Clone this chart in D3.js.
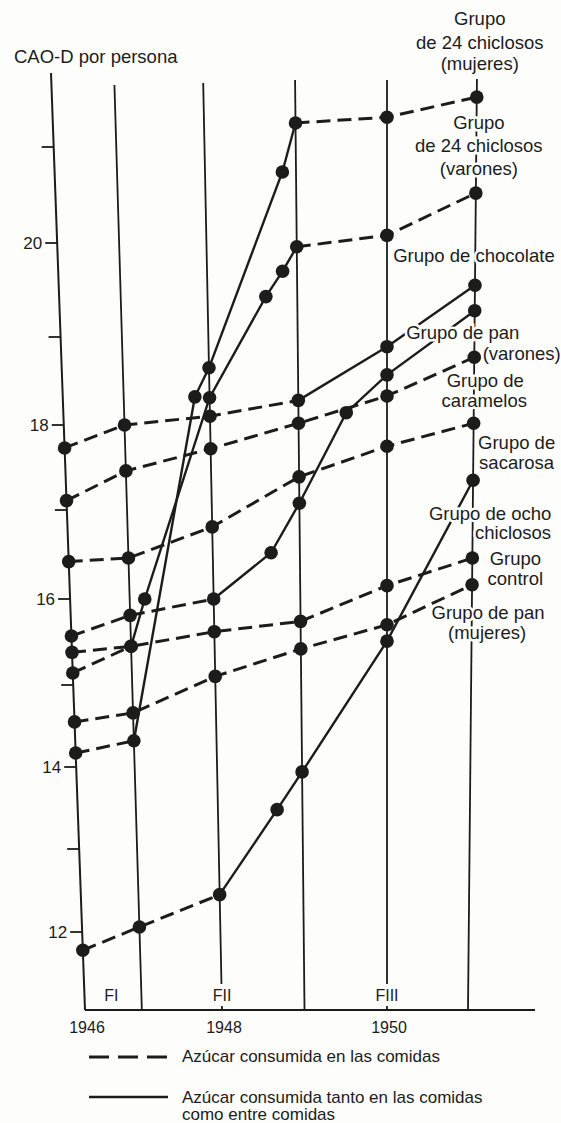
<!DOCTYPE html>
<html><head><meta charset="utf-8">
<script src="https://cdn.jsdelivr.net/npm/d3@7"></script>
<style>
html,body{margin:0;padding:0;background:#fdfdfb;}
svg text{font-family:"Liberation Sans", Arial, Helvetica, sans-serif; fill:#1c1c1c;}
</style></head><body>
<svg id="chart" width="561" height="1123"></svg>
<script>
// ---------------- DATA ----------------
const periodYears = [1946, 1946.83, 1948, 1949, 1950, 1951];
const periodLabels = ["FI", "FII", "FIII"];
const periodLabelYears = [1946.42, 1948, 1950];
const yearTicks = [1946, 1948, 1950];
const valueTicks = [12, 13, 14, 15, 16, 17, 18, 19, 20, 21];
const valueTickLabels = [12, 14, 16, 18, 20];
const yAxisTitle = "CAO-D por persona";

// betweenMeals: one flag per segment (true = solid line, sugar also between meals)
const mujeres24Years  = [1946, 1946.83, 1947.80, 1948, 1948.85, 1949, 1950, 1951];
const mujeres24Values = [14.17, 14.32, 18.32, 18.65, 20.74, 21.25, 21.31, 21.52];
const mujeres24Between = [false, true, true, true, true, false, false];

const varones24Years  = [1946, 1946.83, 1947.04, 1948, 1948.65, 1948.84, 1949, 1950, 1951];
const varones24Values = [15.14, 15.45, 16.0, 18.31, 19.43, 19.70, 19.96, 20.08, 20.52];
const varones24Between = [false, true, true, true, true, true, false, false];

const chocolateYears  = [1946, 1946.83, 1948, 1949, 1950, 1951];
const chocolateValues = [17.73, 18.0, 18.1, 18.28, 18.89, 19.55];
const chocolateBetween = [false, false, false, true, true];

const panVaronesYears  = [1946, 1946.83, 1948, 1948.67, 1949, 1949.54, 1950, 1951];
const panVaronesValues = [15.57, 15.81, 16.0, 16.52, 17.08, 18.14, 18.57, 19.28];
const panVaronesBetween = [false, false, true, true, true, true, true];

const caramelosYears  = [1946, 1946.83, 1948, 1949, 1950, 1951];
const caramelosValues = [17.11, 17.46, 17.72, 18.02, 18.33, 18.77];
const caramelosBetween = [false, false, false, false, false];

const sacarosaYears  = [1946, 1946.83, 1948, 1949, 1950, 1951];
const sacarosaValues = [16.42, 16.46, 16.81, 17.39, 17.75, 18.02];
const sacarosaBetween = [false, false, false, false, false];

const ochoYears  = [1946, 1946.83, 1948, 1948.70, 1949, 1950, 1951];
const ochoValues = [11.78, 12.06, 12.45, 13.48, 13.94, 15.51, 17.35];
const ochoBetween = [false, false, true, true, true, true];

const controlYears  = [1946, 1946.83, 1948, 1949, 1950, 1951];
const controlValues = [15.38, 15.45, 15.62, 15.74, 16.15, 16.46];
const controlBetween = [false, false, false, false, false];

const panMujeresYears  = [1946, 1946.83, 1948, 1949, 1950, 1951];
const panMujeresValues = [14.55, 14.66, 15.10, 15.42, 15.70, 16.16];
const panMujeresBetween = [false, false, false, false, false];

const groupNames = [
  ["Grupo", "de 24 chiclosos", "(mujeres)"],
  ["Grupo", "de 24 chiclosos", "(varones)"],
  ["Grupo de chocolate"],
  ["Grupo de pan", "(varones)"],
  ["Grupo de", "caramelos"],
  ["Grupo de", "sacarosa"],
  ["Grupo de ocho", "chiclosos"],
  ["Grupo", "control"],
  ["Grupo de pan", "(mujeres)"]
];
const legendLabels = [
  ["Azúcar consumida en las comidas"],
  ["Azúcar consumida tanto en las comidas", "como entre comidas"]
];

const series = [
  [mujeres24Years, mujeres24Values, mujeres24Between],
  [varones24Years, varones24Values, varones24Between],
  [chocolateYears, chocolateValues, chocolateBetween],
  [panVaronesYears, panVaronesValues, panVaronesBetween],
  [caramelosYears, caramelosValues, caramelosBetween],
  [sacarosaYears, sacarosaValues, sacarosaBetween],
  [ochoYears, ochoValues, ochoBetween],
  [controlYears, controlValues, controlBetween],
  [panMujeresYears, panMujeresValues, panMujeresBetween]
].map(([ys, vs, bs], i) => ({
  name: groupNames[i],
  points: ys.map((t, j) => ({t, v: vs[j]})),
  between: bs
}));

// ---------------- LAYOUT ----------------
// label offsets [dx, dy] of each text line relative to the series end point
const labelLayout = [
  [[3,-79],[3,-55],[3,-34]],
  [[3,-71],[3,-48],[3,-25]],
  [[-1,-30]],
  [[-12,22],[47,43]],
  [[11,23],[10,43]],
  [[43,19],[43,39]],
  [[17,33],[40,52]],
  [[43,0],[43,20]],
  [[16,28],[15,48]]
];

const INK = "#1c1c1c";
const svg = d3.select("#chart");
const Y0 = 73, Y1 = 1010;

const yScale = d3.scaleLinear().domain(valueTicks)
  .range([932, 849, 767, 685, 599, 510, 425, 337, 243, 147]);
// the scanned figure is slightly skewed: top and bottom x positions differ
const xTop = d3.scaleLinear().domain([1946, 1948, 1950, 1951]).range([51, 203, 387, 477]);
const xBot = d3.scaleLinear().domain([1946, 1948, 1950, 1951]).range([85, 222, 387, 468]);
function xAt(t, y) {
  const f = (y - Y0) / (Y1 - Y0);
  return xTop(t) + (xBot(t) - xTop(t)) * f;
}
function pos(p) { const y = yScale(p.v); return [xAt(p.t, y), y]; }

// vertical period lines
const lineTops = [73, 85, 83, 80, 80, 79];
svg.append("g").selectAll("line").data(periodYears).join("line")
  .attr("x1", (d, i) => xAt(d, lineTops[i])).attr("y1", (d, i) => lineTops[i])
  .attr("x2", d => xBot(d)).attr("y2", Y1)
  .attr("stroke", INK).attr("stroke-width", (d, i) => i === 0 ? 2 : 1.8);

// horizontal baseline
svg.append("line").attr("x1", xBot(1946)).attr("x2", 535).attr("y1", Y1).attr("y2", Y1)
  .attr("stroke", INK).attr("stroke-width", 2);

// y ticks
const tickG = svg.append("g");
valueTicks.forEach(v => {
  const y = yScale(v), x = xAt(1946, y);
  tickG.append("line").attr("x1", x - 12).attr("x2", x).attr("y1", y).attr("y2", y)
    .attr("stroke", INK).attr("stroke-width", 1.8);
  if (valueTickLabels.includes(v)) {
    tickG.append("text").attr("x", x - 15).attr("y", y).attr("text-anchor", "end")
      .attr("dominant-baseline", "central").attr("font-size", 17).text(v);
  }
});

svg.append("text").attr("x", 14).attr("y", 56).attr("dominant-baseline", "central")
  .attr("font-size", 18.5).text(yAxisTitle);

// year labels
yearTicks.forEach(t => {
  svg.append("text").attr("x", xBot(t) + 2).attr("y", 1027).attr("text-anchor", "middle")
    .attr("dominant-baseline", "central").attr("font-size", 16).text(t);
});

// data lines
const lineGen = d3.line().x(d => pos(d)[0]).y(d => pos(d)[1]);
const dataG = svg.append("g");
series.forEach(s => {
  let runs = [];
  s.between.forEach((b, i) => {
    const last = runs[runs.length - 1];
    if (last && last.b === b) last.pts.push(s.points[i + 1]);
    else runs.push({b, pts: [s.points[i], s.points[i + 1]]});
  });
  runs.forEach(r => {
    dataG.append("path").attr("d", lineGen(r.pts)).attr("fill", "none")
      .attr("stroke", INK).attr("stroke-width", r.b ? 2.4 : 3)
      .attr("stroke-dasharray", r.b ? null : "14,7");
  });
});
series.forEach(s => {
  dataG.append("g").selectAll("circle").data(s.points).join("circle")
    .attr("cx", d => pos(d)[0]).attr("cy", d => pos(d)[1]).attr("r", 6.8).attr("fill", INK);
});

// period labels (white halo interrupts the lines)
const bg = "#fdfdfb";
periodLabels.forEach((l, i) => {
  const t = periodLabelYears[i];
  svg.append("text").attr("x", i === 0 ? (xBot(1946) + xBot(1946.83)) / 2 - 2 : xBot(t))
    .attr("y", 995).attr("text-anchor", "middle").attr("dominant-baseline", "central")
    .attr("font-size", 16).attr("stroke", bg).attr("stroke-width", 10)
    .attr("paint-order", "stroke").text(l);
});

// group labels
series.forEach((s, i) => {
  const [ex, ey] = pos(s.points[s.points.length - 1]);
  s.name.forEach((line, j) => {
    const [dx, dy] = labelLayout[i][j];
    svg.append("text").attr("x", ex + dx).attr("y", ey + dy)
      .attr("text-anchor", "middle").attr("dominant-baseline", "central")
      .attr("font-size", 18.5).attr("stroke", bg).attr("stroke-width", 5)
      .attr("paint-order", "stroke").text(line);
  });
});

// legend
const lg = svg.append("g");
lg.append("line").attr("x1", 89).attr("x2", 168).attr("y1", 1057).attr("y2", 1057)
  .attr("stroke", INK).attr("stroke-width", 3).attr("stroke-dasharray", "20,9");
lg.append("line").attr("x1", 89).attr("x2", 168).attr("y1", 1097).attr("y2", 1097)
  .attr("stroke", INK).attr("stroke-width", 2.4);
[[1056], [1097, 1114]].forEach((ys, i) => {
  legendLabels[i].forEach((txt, j) => {
    lg.append("text").attr("x", 182).attr("y", ys[j]).attr("dominant-baseline", "central")
      .attr("font-size", 17).text(txt);
  });
});
</script>
</body></html>
